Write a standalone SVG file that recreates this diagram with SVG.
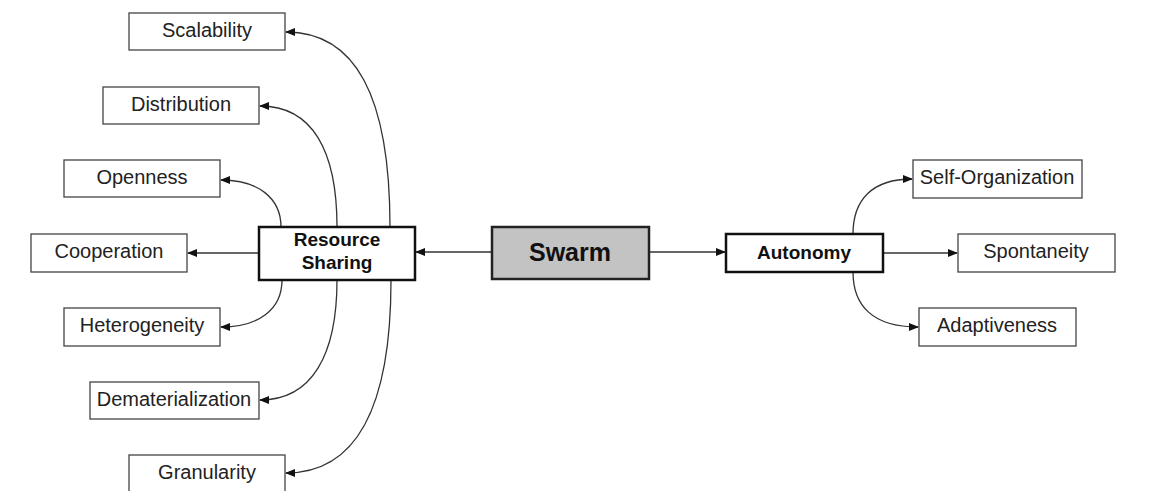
<svg xmlns="http://www.w3.org/2000/svg" width="1158" height="491" viewBox="0 0 1158 491">
<style>
.box{fill:#fff;stroke:#444;stroke-width:1.3}
.main{fill:#fff;stroke:#111;stroke-width:2.5}
.swarm{fill:#c3c3c3;stroke:#222;stroke-width:2.5}
.lbl{font-family:"Liberation Sans",Arial,sans-serif;font-size:20px;fill:#222;text-anchor:middle}
.bold{font-family:"Liberation Sans",Arial,sans-serif;font-size:19px;font-weight:bold;fill:#111;text-anchor:middle}
.big{font-family:"Liberation Sans",Arial,sans-serif;font-size:25px;font-weight:bold;fill:#111;text-anchor:middle}
.c{fill:none;stroke:#333;stroke-width:1.3;marker-end:url(#ah)}
</style>
<defs>
<marker id="ah" markerWidth="10" markerHeight="8" refX="9" refY="4" orient="auto" markerUnits="userSpaceOnUse">
<path d="M0,0 L10,4 L0,8 z" fill="#111"/>
</marker>
</defs>
<rect width="1158" height="491" fill="#fff"/>
<g id="connectors">
<path class="c" d="M492,252 L416,252"/>
<path class="c" d="M649,252 L725,252"/>
<path class="c" d="M259,253 L188,253"/>
<path class="c" d="M281,227 C281,198 258,180 221,180"/>
<path class="c" d="M337,227 C337,150 312,106 260,106"/>
<path class="c" d="M390,227 C390,95 355,32 286,32"/>
<path class="c" d="M282,280 C282,310 258,327 221,327"/>
<path class="c" d="M337,280 C337,355 312,400 260,400"/>
<path class="c" d="M391,280 C391,410 355,473 286,473"/>
<path class="c" d="M853,234 C853,200 872,179 912,179"/>
<path class="c" d="M883,253 L957,253"/>
<path class="c" d="M853,272 C853,305 872,327 918,327"/>
</g>
<g id="scalability"><rect class="box" x="129" y="13" width="156" height="37"/><text class="lbl" x="207" y="37">Scalability</text></g>
<g id="distribution"><rect class="box" x="103" y="87" width="156" height="37"/><text class="lbl" x="181" y="111">Distribution</text></g>
<g id="openness"><rect class="box" x="64" y="160" width="156" height="37"/><text class="lbl" x="142" y="184">Openness</text></g>
<g id="cooperation"><rect class="box" x="31" y="234" width="156" height="38"/><text class="lbl" x="109" y="258">Cooperation</text></g>
<g id="heterogeneity"><rect class="box" x="64" y="308" width="156" height="38"/><text class="lbl" x="142" y="332">Heterogeneity</text></g>
<g id="dematerialization"><rect class="box" x="90" y="382" width="169" height="37"/><text class="lbl" x="174" y="406">Dematerialization</text></g>
<g id="granularity"><rect class="box" x="129" y="455" width="156" height="38"/><text class="lbl" x="207" y="479">Granularity</text></g>
<g id="resource-sharing"><rect class="main" x="259" y="227" width="156" height="53"/><text class="bold" x="337" y="246">Resource</text><text class="bold" x="337" y="269">Sharing</text></g>
<g id="swarm"><rect class="swarm" x="492" y="227" width="157" height="52"/><text class="big" x="570" y="261">Swarm</text></g>
<g id="autonomy"><rect class="main" x="726" y="234" width="157" height="38"/><text class="bold" x="804" y="259">Autonomy</text></g>
<g id="self-organization"><rect class="box" x="913" y="160" width="169" height="38"/><text class="lbl" x="997" y="184">Self-Organization</text></g>
<g id="spontaneity"><rect class="box" x="958" y="234" width="157" height="38"/><text class="lbl" x="1036" y="258">Spontaneity</text></g>
<g id="adaptiveness"><rect class="box" x="919" y="308" width="157" height="38"/><text class="lbl" x="997" y="332">Adaptiveness</text></g>
</svg>
